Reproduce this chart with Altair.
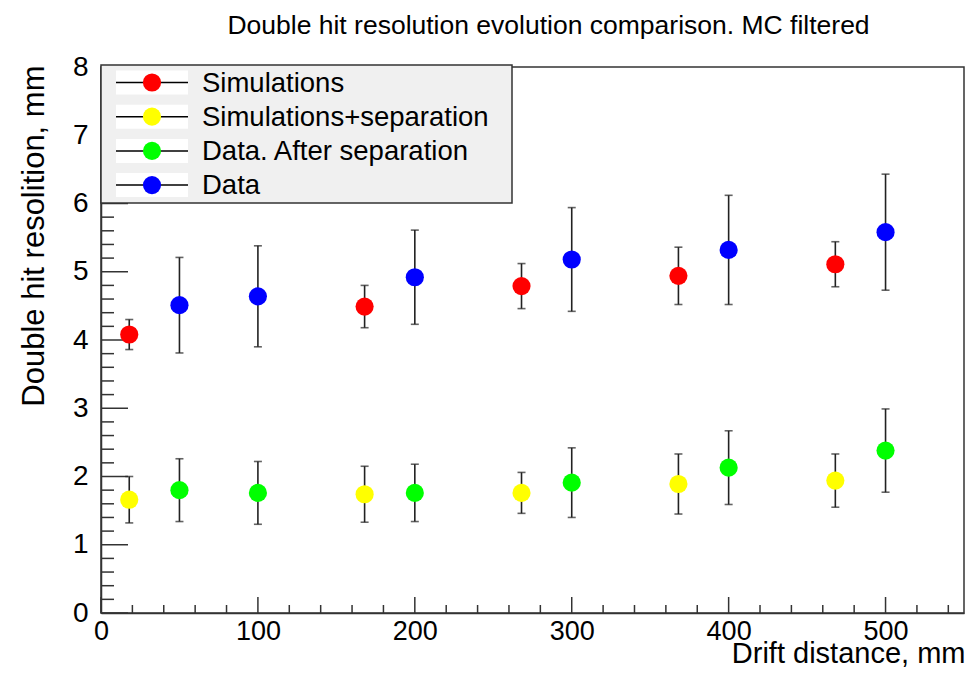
import altair as alt
import pandas as pd

# ---- data ----
sim_x = [18, 168, 268, 368, 468]
sim_y = [4.08, 4.49, 4.79, 4.94, 5.11]
sim_err = [0.22, 0.31, 0.33, 0.42, 0.33]

simsep_x = [18, 168, 268, 368, 468]
simsep_y = [1.66, 1.74, 1.76, 1.89, 1.94]
simsep_err = [0.34, 0.41, 0.30, 0.44, 0.39]

data_x = [50, 100, 200, 300, 400, 500]
data_y = [4.51, 4.64, 4.92, 5.18, 5.32, 5.58]
data_err = [0.70, 0.74, 0.69, 0.76, 0.80, 0.85]

datasep_x = [50, 100, 200, 300, 400, 500]
datasep_y = [1.80, 1.76, 1.76, 1.91, 2.13, 2.38]
datasep_err = [0.46, 0.46, 0.42, 0.51, 0.54, 0.61]

series_names = ["Simulations", "Simulations+separation", "Data. After separation", "Data"]
series_colors = ["#ff0000", "#ffff00", "#00ff00", "#0000ff"]

x_major = [0, 100, 200, 300, 400, 500]
x_minor = [v for v in range(0, 551, 20) if v % 100 != 0]
y_major = [0, 1, 2, 3, 4, 5, 6, 7, 8]
y_minor = [round(i * 0.2, 1) for i in range(0, 41) if i % 5 != 0]

FONT = "Liberation Sans"
W, H = 863, 546
XDOM = [0, 550]
YDOM = [0, 8]

rows = []
for name, xs_, ys_, es_ in [
    (series_names[1], simsep_x, simsep_y, simsep_err),
    (series_names[2], datasep_x, datasep_y, datasep_err),
    (series_names[0], sim_x, sim_y, sim_err),
    (series_names[3], data_x, data_y, data_err),
]:
    for x, y, e in zip(xs_, ys_, es_):
        rows.append({"series": name, "x": x, "y": y, "lo": y - e, "hi": y + e})
df = pd.DataFrame(rows)

xs = alt.Scale(domain=XDOM, nice=False, zero=False)
ys = alt.Scale(domain=YDOM, nice=False, zero=False)
cs = alt.Scale(domain=series_names, range=series_colors)

X_AXIS = alt.Axis(
    values=x_major, ticks=False, grid=False, labelFontSize=27, labelFont=FONT,
    labelColor="black", labelPadding=5, labelFlush=False,
    domainColor="#333333", domainWidth=1.5,
    title="Drift distance, mm", titleFont=FONT, titleFontSize=29,
    titleFontWeight="normal", titleColor="black", titleAlign="right",
    titleAnchor="end", titleX=W + 1, titleY=55, titleBaseline="bottom",
)
Y_AXIS = alt.Axis(
    values=y_major, ticks=False, grid=False, labelFontSize=28, labelFont=FONT,
    labelColor="black", labelPadding=13, labelFlush=False,
    domainColor="#333333", domainWidth=1.5,
    title="Double hit resolition, mm", titleFont=FONT, titleFontSize=31,
    titleFontWeight="normal", titleColor="black", titleAngle=270,
    titleAlign="right", titleAnchor="end", titleX=-58, titleY=-2,
    titleBaseline="alphabetic",
)

base = alt.Chart(df)

err = base.mark_rule(color="#222222", strokeWidth=1.6).encode(
    x=alt.X("x:Q", scale=xs, axis=X_AXIS),
    y=alt.Y("lo:Q", scale=ys, axis=Y_AXIS),
    y2="hi:Q",
)
cap_lo = base.mark_tick(color="#222222", orient="horizontal", size=8, thickness=1.6).encode(
    x=alt.X("x:Q", scale=xs, axis=X_AXIS),
    y=alt.Y("lo:Q", scale=ys, axis=Y_AXIS),
)
cap_hi = base.mark_tick(color="#222222", orient="horizontal", size=8, thickness=1.6).encode(
    x=alt.X("x:Q", scale=xs, axis=X_AXIS),
    y=alt.Y("hi:Q", scale=ys, axis=Y_AXIS),
)
pts = base.mark_point(filled=True, shape="circle", size=330, opacity=1).encode(
    x=alt.X("x:Q", scale=xs, axis=X_AXIS),
    y=alt.Y("y:Q", scale=ys, axis=Y_AXIS),
    color=alt.Color("series:N", scale=cs, legend=None),
)

# inside ticks
xmaj = alt.Chart(pd.DataFrame({"v": x_major})).mark_rule(color="#333333", strokeWidth=1.5).encode(
    x=alt.X("v:Q", scale=xs, axis=X_AXIS), y=alt.value(H), y2=alt.value(H - 16))
xmin = alt.Chart(pd.DataFrame({"v": x_minor})).mark_rule(color="#333333", strokeWidth=1.5).encode(
    x=alt.X("v:Q", scale=xs, axis=X_AXIS), y=alt.value(H), y2=alt.value(H - 8))
ymaj = alt.Chart(pd.DataFrame({"v": y_major})).mark_rule(color="#333333", strokeWidth=1.5).encode(
    y=alt.Y("v:Q", scale=ys, axis=Y_AXIS), x=alt.value(0), x2=alt.value(27))
ymin = alt.Chart(pd.DataFrame({"v": y_minor})).mark_rule(color="#333333", strokeWidth=1.5).encode(
    y=alt.Y("v:Q", scale=ys, axis=Y_AXIS), x=alt.value(0), x2=alt.value(13))

# legend box
leg_df = pd.DataFrame({
    "label": series_names,
    "color": series_colors,
    "ypix": [15.5 + 34.2 * i for i in range(len(series_names))],
})
leg_df["ytop"] = leg_df["ypix"] - 12
leg_df["ybot"] = leg_df["ypix"] + 12

leg_bg = alt.Chart(pd.DataFrame({"a": [0]})).mark_rect(
    fill="#f0f0f0", stroke="#333333", strokeWidth=1.5
).encode(x=alt.value(0), x2=alt.value(411), y=alt.value(-2), y2=alt.value(136))
leg_white = alt.Chart(leg_df).mark_rect(fill="white").encode(
    x=alt.value(15), x2=alt.value(87),
    y=alt.Y("ytop:Q", scale=None), y2="ybot:Q")
leg_line = alt.Chart(leg_df).mark_rule(color="black", strokeWidth=1.5).encode(
    x=alt.value(15), x2=alt.value(87), y=alt.Y("ypix:Q", scale=None))
leg_pt = alt.Chart(leg_df).mark_point(filled=True, shape="circle", size=330, opacity=1).encode(
    x=alt.value(51), y=alt.Y("ypix:Q", scale=None),
    color=alt.Color("color:N", scale=None))
leg_txt = alt.Chart(leg_df).mark_text(
    align="left", baseline="middle", font=FONT, fontSize=27.5, color="black", dy=1
).encode(x=alt.value(101), y=alt.Y("ypix:Q", scale=None), text="label:N")

chart = alt.layer(
    xmaj, xmin, ymaj, ymin, err, cap_lo, cap_hi, pts,
    leg_bg, leg_white, leg_line, leg_pt, leg_txt,
).properties(
    width=W, height=H,
    title=alt.TitleParams(
        "Double hit resolution evolution comparison. MC filtered",
        font=FONT, fontSize=26.5, fontWeight="normal", color="black",
        anchor="middle", dx=16, offset=14,
    ),
    autosize=alt.AutoSizeParams(type="none"),
    padding={"left": 93, "top": 59, "right": 6, "bottom": 56},
).configure(background="white").configure_view(stroke="#333333", strokeWidth=1.5)

chart.save("out.html", embed_options={"renderer": "svg", "actions": False})
